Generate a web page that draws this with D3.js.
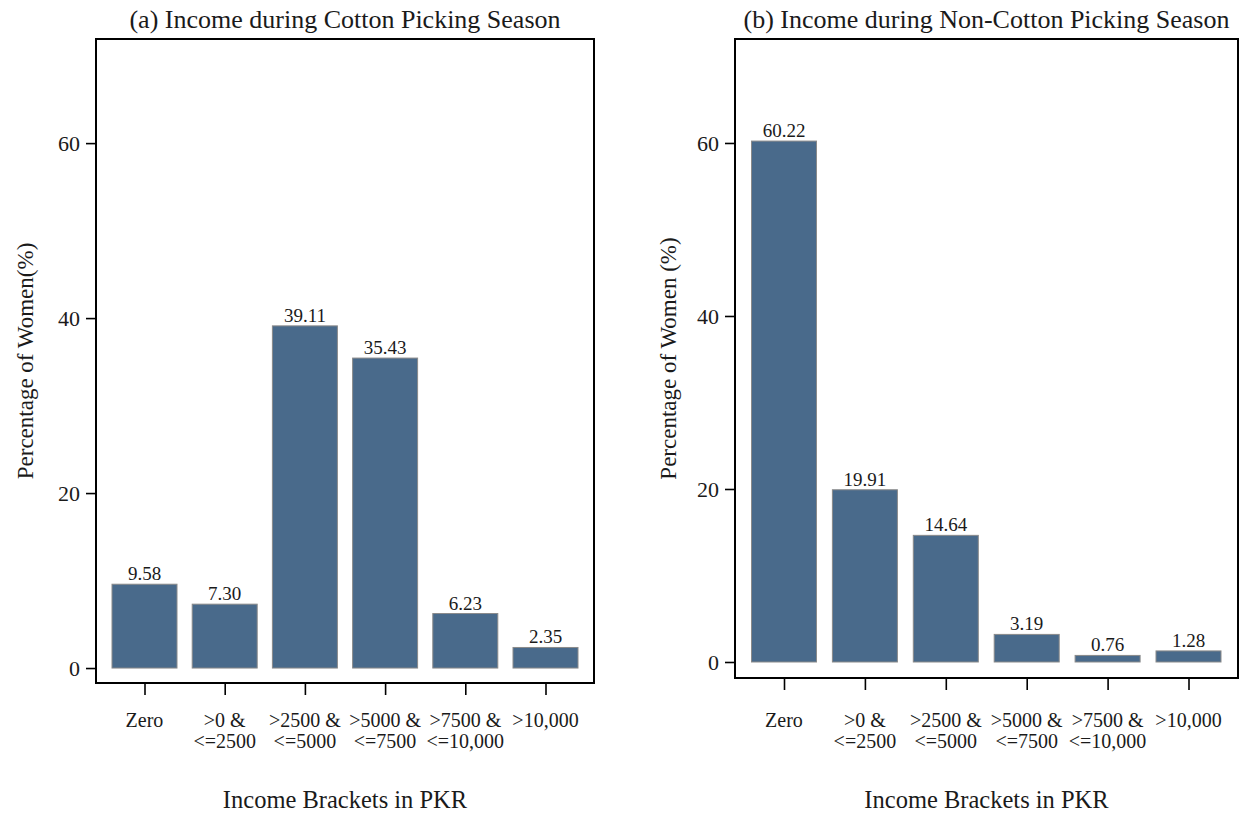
<!DOCTYPE html>
<html>
<head>
<meta charset="utf-8">
<script src="https://cdn.jsdelivr.net/npm/d3@7"></script>
<style>
  html, body { margin: 0; padding: 0; background: #fff; }
  svg { display: block; }
  text { font-family: "Liberation Serif", "Times New Roman", serif; fill: #1a1a1a; }
</style>
</head>
<body>
<svg id="chart" width="1250" height="816"></svg>
<script>
// Income brackets (two-line tick labels)
const brackets = ["Zero", ">0 & <=2500", ">2500 & <=5000", ">5000 & <=7500", ">7500 & <=10,000", ">10,000"];
const bracketLines = [["Zero"], [">0 &", "<=2500"], [">2500 &", "<=5000"], [">5000 &", "<=7500"], [">7500 &", "<=10,000"], [">10,000"]];

// Share of women in each bracket (%)
const cottonSeason = [9.58, 7.30, 39.11, 35.43, 6.23, 2.35];
const nonCottonSeason = [60.22, 19.91, 14.64, 3.19, 0.76, 1.28];

const yTicks = [0, 20, 40, 60];

const titles = ["(a) Income during Cotton Picking Season", "(b) Income during Non-Cotton Picking Season"];
const yTitles = ["Percentage of Women(%)", "Percentage of Women (%)"];
const xTitle = "Income Brackets in PKR";

const barFill = "#496a8b";
const barStroke = "#8a8a8a";

const svg = d3.select("#chart");

function panel(cfg) {
  const g = svg.append("g");
  const { left, right, top, bottom, yMin, yMax, xFirst, xLast, barW } = cfg;

  const y = d3.scaleLinear().domain([yMin, yMax]).range([bottom, top]);
  const x = d3.scalePoint().domain(brackets).range([xFirst, xLast]);

  // title
  g.append("text")
    .attr("x", (left + right) / 2).attr("y", 28)
    .attr("text-anchor", "middle")
    .style("font-size", "26px")
    .text(cfg.title);

  // bars
  g.selectAll("rect.bar")
    .data(cfg.values)
    .join("rect")
    .attr("class", "bar")
    .attr("x", (d, i) => x(brackets[i]) - barW / 2)
    .attr("width", barW)
    .attr("y", d => y(d))
    .attr("height", d => y(0) - y(d))
    .attr("fill", barFill)
    .attr("stroke", barStroke)
    .attr("stroke-width", 1);

  // value labels
  g.selectAll("text.val")
    .data(cfg.values)
    .join("text")
    .attr("class", "val")
    .attr("x", (d, i) => x(brackets[i]))
    .attr("y", d => y(d) - 4)
    .attr("text-anchor", "middle")
    .style("font-size", "19px")
    .text(d => d.toFixed(2));

  // frame
  g.append("rect")
    .attr("x", left).attr("y", top)
    .attr("width", right - left).attr("height", bottom - top)
    .attr("fill", "none").attr("stroke", "#000").attr("stroke-width", 2);

  // y axis
  const yAxis = d3.axisLeft(y).tickValues(yTicks).tickSize(10).tickPadding(6).tickFormat(d3.format("d"));
  const ya = g.append("g").attr("transform", `translate(${left},0)`).call(yAxis);
  ya.select(".domain").remove();
  ya.selectAll(".tick line").attr("stroke", "#000").attr("stroke-width", 1.6);
  ya.selectAll(".tick text")
    .style("font-size", "22px")
    .style("font-family", "'Liberation Serif', serif")
    .attr("fill", "#1a1a1a");

  // x axis
  const xAxis = d3.axisBottom(x).tickSize(12).tickFormat("");
  const xa = g.append("g").attr("transform", `translate(0,${bottom})`).call(xAxis);
  xa.select(".domain").remove();
  xa.selectAll(".tick line").attr("stroke", "#000").attr("stroke-width", 1.6);
  xa.selectAll(".tick text").remove();

  // two-line bracket labels
  const lab = g.selectAll("text.xlab")
    .data(bracketLines)
    .join("text")
    .attr("class", "xlab")
    .attr("text-anchor", "middle")
    .style("font-size", "20px");
  lab.each(function (lines, i) {
    d3.select(this).selectAll("tspan")
      .data(lines)
      .join("tspan")
      .attr("x", x(brackets[i]))
      .attr("y", (d, j) => 727 + j * 21)
      .text(d => d);
  });

  // axis titles
  g.append("text")
    .attr("transform", `translate(${cfg.yTitleX},${(top + bottom) / 2}) rotate(-90)`)
    .attr("text-anchor", "middle")
    .style("font-size", "23px")
    .text(cfg.yTitle);

  g.append("text")
    .attr("x", (left + right) / 2).attr("y", 808)
    .attr("text-anchor", "middle")
    .style("font-size", "24.5px")
    .text(xTitle);
}

panel({
  title: titles[0], yTitle: yTitles[0], values: cottonSeason,
  left: 96, right: 594, top: 39, bottom: 683,
  yMin: -1.71, yMax: 71.9,
  xFirst: 144.5, xLast: 545.5, barW: 65, yTitleX: 33
});

panel({
  title: titles[1], yTitle: yTitles[1], values: nonCottonSeason,
  left: 735, right: 1238, top: 39, bottom: 678,
  yMin: -1.85, yMax: 72.02,
  xFirst: 784, xLast: 1188.5, barW: 65, yTitleX: 676
});
</script>
</body>
</html>
